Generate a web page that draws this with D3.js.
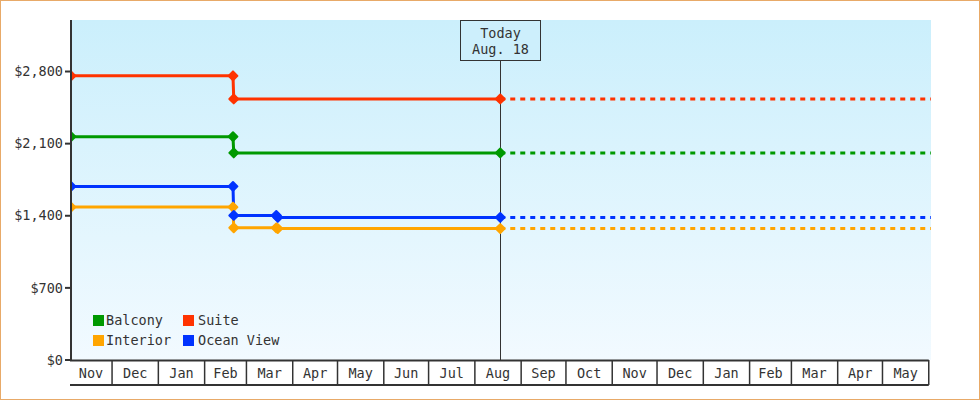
<!DOCTYPE html>
<html><head><meta charset="utf-8">
<script src="https://cdn.jsdelivr.net/npm/d3@7/dist/d3.min.js"></script>
<style>
html,body{margin:0;padding:0;background:#fff;}
svg{display:block;}
text{font-family:"DejaVu Sans Mono",monospace;font-size:13.5px;fill:#333;}
</style></head>
<body>
<script>
// ---- data ----
const seriesNames = ["Interior", "Ocean View", "Balcony", "Suite"];
const seriesColors = ["#ffa500", "#0033ff", "#009900", "#ff3300"];
const interiorDates = ["2021-11-03T12:00", "2022-02-20", "2022-02-20T12:00", "2022-03-21", "2022-03-22", "2022-08-18"];
const interiorValues = [1484, 1484, 1283, 1283, 1276, 1276];
const oceanDates = ["2021-11-03T12:00", "2022-02-20", "2022-02-20T12:00", "2022-03-21", "2022-03-22", "2022-08-18"];
const oceanValues = [1685, 1685, 1403, 1403, 1384, 1384];
const balconyDates = ["2021-11-03T12:00", "2022-02-20", "2022-02-20T12:00", "2022-08-18"];
const balconyValues = [2168, 2168, 2010, 2010];
const suiteDates = ["2021-11-03T12:00", "2022-02-20", "2022-02-20T12:00", "2022-08-18"];
const suiteValues = [2758, 2758, 2534, 2534];
const yTicks = [0, 700, 1400, 2100, 2800];
const domainStart = "2021-11-03T12:00";
const domainEnd = "2023-06-02T12:00";
const todayDate = "2022-08-18";
const todayLabel = ["Today", "Aug. 18"];
const legendOrder = ["Balcony", "Suite", "Interior", "Ocean View"];

const parse = s => new Date(s);
const allSeries = [
  {name: "Interior", dates: interiorDates, values: interiorValues},
  {name: "Ocean View", dates: oceanDates, values: oceanValues},
  {name: "Balcony", dates: balconyDates, values: balconyValues},
  {name: "Suite", dates: suiteDates, values: suiteValues}
].map(s => ({name: s.name, color: seriesColors[seriesNames.indexOf(s.name)],
  pts: s.dates.map((d, i) => ({date: parse(d), value: s.values[i]}))}));

const W = 980, H = 400;
const L = 71, R = 931, T = 20, B = 360;

const svg = d3.select("body").append("svg").attr("width", W).attr("height", H);
const defs = svg.append("defs");
const grad = defs.append("linearGradient").attr("id", "bg").attr("x1", 0).attr("y1", 0).attr("x2", 0).attr("y2", 1);
grad.append("stop").attr("offset", "0%").attr("stop-color", "#cbeffc");
grad.append("stop").attr("offset", "100%").attr("stop-color", "#f2faff");
defs.append("clipPath").attr("id", "clip").append("rect").attr("x", L).attr("y", T).attr("width", R - L).attr("height", B - T);

// outer border
svg.append("rect").attr("x", 0.5).attr("y", 0.5).attr("width", W - 1).attr("height", H - 1)
  .attr("fill", "#fff").attr("stroke", "#e8aa68").attr("stroke-width", 1);

const x = d3.scaleTime().domain([parse(domainStart), parse(domainEnd)]).range([L, R]);
const y = d3.scaleLinear().domain([0, 3300]).range([B, T]);

svg.append("rect").attr("x", L).attr("y", T).attr("width", R - L).attr("height", B - T).attr("fill", "url(#bg)");

// today line
const tx = Math.round(x(parse(todayDate))) + 0.5;
svg.append("line").attr("x1", tx).attr("x2", tx).attr("y1", 60).attr("y2", B).attr("stroke", "#333").attr("stroke-width", 1);

// series
const plot = svg.append("g").attr("clip-path", "url(#clip)");
const line = d3.line().x(d => x(d.date)).y(d => y(d.value));
const diamond = d3.symbol().type(d3.symbolDiamond2).size(50);
allSeries.forEach(s => {
  const last = s.pts[s.pts.length - 1];
  plot.append("path").datum([last, {date: parse(domainEnd), value: last.value}])
    .attr("d", line).attr("fill", "none").attr("stroke", s.color).attr("stroke-width", 3)
    .attr("stroke-dasharray", "5,5");
  plot.append("path").datum(s.pts).attr("d", line).attr("fill", "none")
    .attr("stroke", s.color).attr("stroke-width", 3).attr("stroke-linejoin", "round");
});
allSeries.forEach(s => {
  plot.selectAll(null).data(s.pts).enter().append("path")
    .attr("d", diamond).attr("transform", d => `translate(${x(d.date)},${y(d.value)})`)
    .attr("fill", s.color).attr("stroke", s.color).attr("stroke-width", 2).attr("stroke-linejoin", "round");
});

// y axis
const yAxis = svg.append("g");
yAxis.append("line").attr("x1", L).attr("x2", L).attr("y1", T).attr("y2", B + 1).attr("stroke", "#333").attr("stroke-width", 2);
yAxis.selectAll(".t").data(yTicks).enter().append("line")
  .attr("x1", 65).attr("x2", L).attr("y1", d => y(d)).attr("y2", d => y(d))
  .attr("stroke", "#333").attr("stroke-width", 2);
yAxis.selectAll(".l").data(yTicks).enter().append("text")
  .attr("x", 63).attr("y", d => y(d)).attr("dy", "0.35em").attr("text-anchor", "end")
  .text(d => "$" + d3.format(",")(d));

// x axis month cells
const monthStarts = d3.timeMonth.range(d3.timeMonth.floor(parse(domainStart)), d3.timeMonth.floor(parse(domainEnd)));
const xAxis = svg.append("g");
const cellEnd = x(d3.timeMonth.floor(parse(domainEnd)));
xAxis.append("line").attr("x1", L - 1).attr("x2", cellEnd).attr("y1", B + 0.5).attr("y2", B + 0.5).attr("stroke", "#333").attr("stroke-width", 2);
xAxis.append("line").attr("x1", L - 1).attr("x2", cellEnd).attr("y1", 385).attr("y2", 385).attr("stroke", "#333").attr("stroke-width", 2);
const bounds = monthStarts.map(m => m < parse(domainStart) ? L - 1 : x(m));
bounds.push(cellEnd);
monthStarts.forEach((m, i) => {
  if (i > 0) xAxis.append("line").attr("x1", bounds[i]).attr("x2", bounds[i]).attr("y1", B).attr("y2", 385).attr("stroke", "#333").attr("stroke-width", 1.5);
  xAxis.append("text").attr("x", (bounds[i] + bounds[i + 1]) / 2).attr("y", 373).attr("dy", "0.35em")
    .attr("text-anchor", "middle").text(d3.timeFormat("%b")(m));
});
xAxis.append("line").attr("x1", cellEnd).attr("x2", cellEnd).attr("y1", B).attr("y2", 385).attr("stroke", "#333").attr("stroke-width", 1.5);

// today box
svg.append("rect").attr("x", tx - 40).attr("y", 20.5).attr("width", 80).attr("height", 40)
  .attr("fill", "#cdeffc").attr("stroke", "#333").attr("stroke-width", 1);
svg.append("text").attr("x", tx).attr("y", 33).attr("dy", "0.35em").attr("text-anchor", "middle").text(todayLabel[0]);
svg.append("text").attr("x", tx).attr("y", 49).attr("dy", "0.35em").attr("text-anchor", "middle").text(todayLabel[1]);

// legend
const leg = svg.append("g");
legendOrder.forEach((n, i) => {
  const col = i % 2, row = Math.floor(i / 2);
  const gx = 93 + col * 90, gy = 315 + row * 20;
  leg.append("rect").attr("x", gx).attr("y", gy).attr("width", 11).attr("height", 11)
    .attr("fill", seriesColors[seriesNames.indexOf(n)]);
  leg.append("text").attr("x", gx + 13 + col * 2).attr("y", gy + 5.5).attr("dy", "0.35em").text(n);
});
</script>
</body></html>
